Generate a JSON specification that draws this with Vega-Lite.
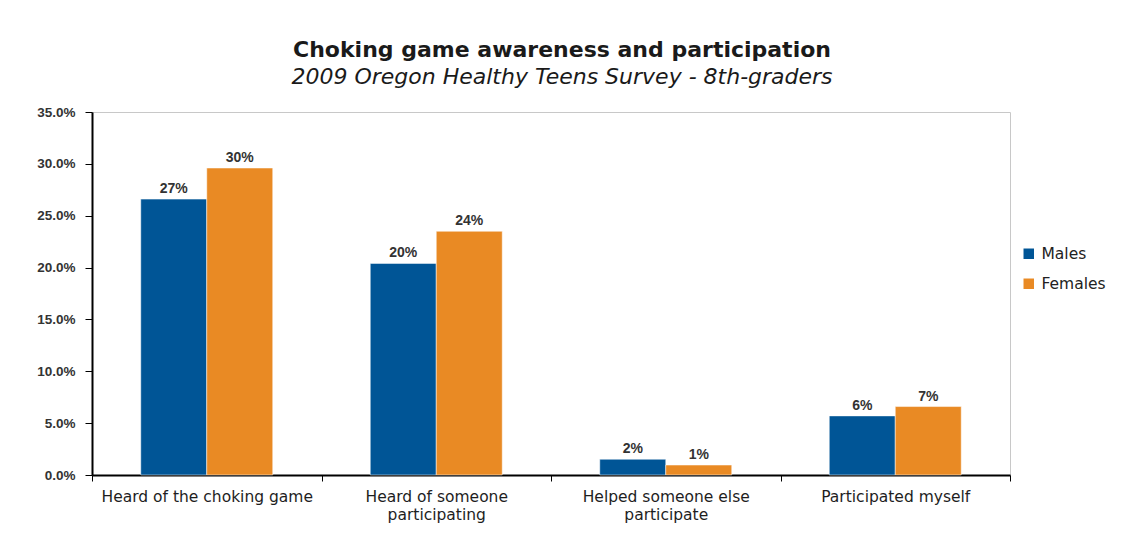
{
  "$schema": "https://vega.github.io/schema/vega-lite/v6.json",
  "width": 918,
  "height": 363,
  "autosize": {"type": "none"},
  "padding": {"left": 92, "top": 112, "right": 121, "bottom": 69},
  "background": "white",
  "config": {
    "font": "DejaVu Sans",
    "view": {"stroke": "#c8c8c8", "strokeWidth": 1}
  },
  "title": {
    "text": "Choking game awareness and participation",
    "subtitle": "2009 Oregon Healthy Teens Survey - 8th-graders",
    "anchor": "middle",
    "dx": 11,
    "offset": 16,
    "font": "DejaVu Sans",
    "fontSize": 22,
    "fontWeight": "bold",
    "color": "#1a1a1a",
    "subtitleFont": "DejaVu Sans",
    "subtitleFontSize": 22,
    "subtitleFontStyle": "italic",
    "subtitleColor": "#1a1a1a",
    "subtitlePadding": 5
  },
  "data": {
    "values": [
      {"category": "Heard of the choking game", "sex": "Males", "value": 0.266},
      {"category": "Heard of the choking game", "sex": "Females", "value": 0.296},
      {"category": "Heard of someone participating", "sex": "Males", "value": 0.204},
      {"category": "Heard of someone participating", "sex": "Females", "value": 0.235},
      {"category": "Helped someone else participate", "sex": "Males", "value": 0.0152},
      {"category": "Helped someone else participate", "sex": "Females", "value": 0.0096},
      {"category": "Participated myself", "sex": "Males", "value": 0.057},
      {"category": "Participated myself", "sex": "Females", "value": 0.066}
    ]
  },
  "encoding": {
    "x": {
      "field": "category",
      "type": "nominal",
      "sort": null,
      "title": null,
      "scale": {"paddingInner": 0, "paddingOuter": 0},
      "axis": {
        "labelAngle": 0,
        "tickBand": "extent",
        "tickSize": 6,
        "tickColor": "#000",
        "domainColor": "#000",
        "domainWidth": 2,
        "labelFont": "DejaVu Sans",
        "labelFontSize": 15.5,
        "labelFontWeight": "normal",
        "labelColor": "#1e1e1e",
        "labelPadding": 8,
        "labelLineHeight": 18,
        "labelLimit": 0,
        "labelExpr": "datum.value == 'Heard of someone participating' ? ['Heard of someone', 'participating'] : datum.value == 'Helped someone else participate' ? ['Helped someone else', 'participate'] : datum.value"
      }
    },
    "xOffset": {
      "field": "sex",
      "type": "nominal",
      "sort": ["Males", "Females"],
      "scale": {"paddingInner": 0, "paddingOuter": 0.739}
    },
    "y": {
      "field": "value",
      "type": "quantitative",
      "title": null,
      "scale": {"domain": [0, 0.35], "nice": false},
      "axis": {
        "format": ".1%",
        "values": [0, 0.05, 0.1, 0.15, 0.2, 0.25, 0.3, 0.35],
        "grid": false,
        "tickColor": "#000",
        "tickSize": 7,
        "domainColor": "#000",
        "domainWidth": 2,
        "labelFont": "Liberation Sans",
        "labelFontSize": 13.5,
        "labelFontWeight": "bold",
        "labelColor": "#333",
        "labelPadding": 10
      }
    }
  },
  "layer": [
    {
      "mark": {"type": "bar", "stroke": "white", "strokeWidth": 0.5},
      "encoding": {
        "color": {
          "field": "sex",
          "type": "nominal",
          "sort": ["Males", "Females"],
          "scale": {"domain": ["Males", "Females"], "range": ["#005596", "#E98A24"]},
          "legend": {
            "title": null,
            "orient": "none",
            "legendX": 929,
            "legendY": 134,
            "symbolType": "square",
            "symbolSize": 110,
            "symbolStrokeWidth": 0,
            "labelFont": "DejaVu Sans",
            "labelFontSize": 15.5,
            "labelColor": "#222",
            "rowPadding": 13,
            "labelOffset": 5
          }
        }
      }
    },
    {
      "mark": {"type": "text", "dy": -10, "font": "Liberation Sans", "fontSize": 14, "fontWeight": "bold", "color": "#333"},
      "encoding": {
        "text": {"field": "value", "type": "quantitative", "format": ".0%"}
      }
    }
  ]
}
